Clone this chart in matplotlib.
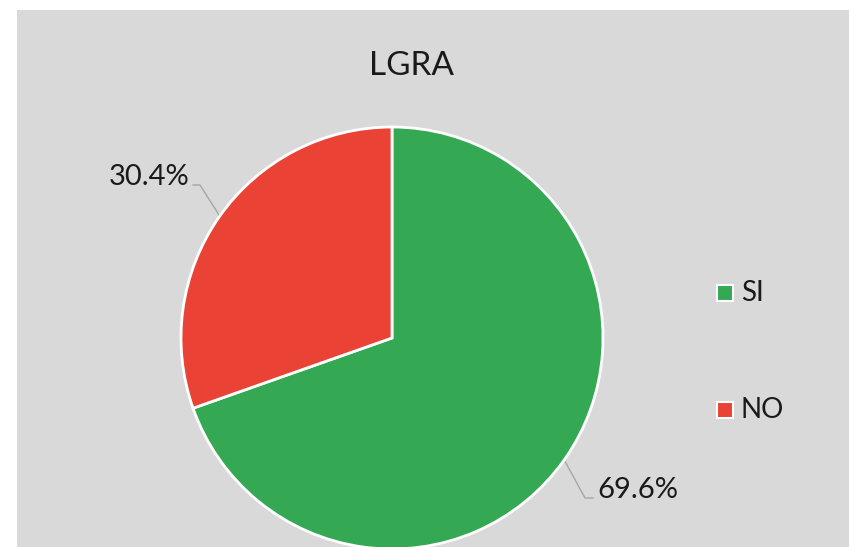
import numpy as np
import matplotlib
matplotlib.use("Agg")
import matplotlib.pyplot as plt
from matplotlib.patches import Rectangle

title = "LGRA"
categories = ["SI", "NO"]
values = [69.6, 30.4]
colors = ["#34a853", "#ea4335"]

W, H = 849, 547
plt.rcParams["font.family"] = ["Lato", "DejaVu Sans"]

fig = plt.figure(figsize=(W / 100, H / 100), dpi=100)
fig.patch.set_facecolor("white")
ax = fig.add_axes([0, 0, 1, 1])

# grey chart area
ax.add_patch(Rectangle((17, 0), W - 17, H - 10, facecolor="#d9d9d9",
                       edgecolor="none", zorder=0))

cx, cy, r = 392, H - 338, 211
wedges, _ = ax.pie(values, colors=colors, startangle=90, counterclock=False,
                   center=(cx, cy), radius=r,
                   wedgeprops=dict(edgecolor="white", linewidth=2))
for w in wedges:
    w.set_zorder(2)

# pie() resets the limits, so set them afterwards
ax.set_xlim(0, W)
ax.set_ylim(0, H)
ax.set_aspect("equal")
ax.axis("off")

ax.text(412, H - 66, title, ha="center", va="center", fontsize=24, color="#1a1a1a")

# data labels with leader lines
label_layout = [
    # (elbow x, elbow y, end x, text x, text ha)
    (585, H - 498, 593, 597, "left"),
    (200, H - 185, 193, 190, "right"),
]
for w, v, (ex, ey, tx_end, tx, ha) in zip(wedges, values, label_layout):
    ang = np.deg2rad((w.theta1 + w.theta2) / 2)
    px, py = cx + r * np.cos(ang), cy + r * np.sin(ang)
    ax.plot([px, ex, tx_end], [py, ey, ey], color="#a6a6a6", lw=1, zorder=1)
    ax.text(tx, ey + 8, f"{v:.1f}%", ha=ha, va="center", fontsize=21, color="#1a1a1a")

# legend
for i, (cat, col) in enumerate(zip(categories, colors)):
    ly = H - (293 + i * 117)
    ax.add_patch(Rectangle((717, ly - 8), 16, 16, facecolor=col,
                           edgecolor="white", linewidth=1.5, zorder=3))
    ax.text(741, ly, cat, ha="left", va="center", fontsize=20, color="#1a1a1a")

fig.savefig("out.png", dpi=100, facecolor=fig.get_facecolor())
